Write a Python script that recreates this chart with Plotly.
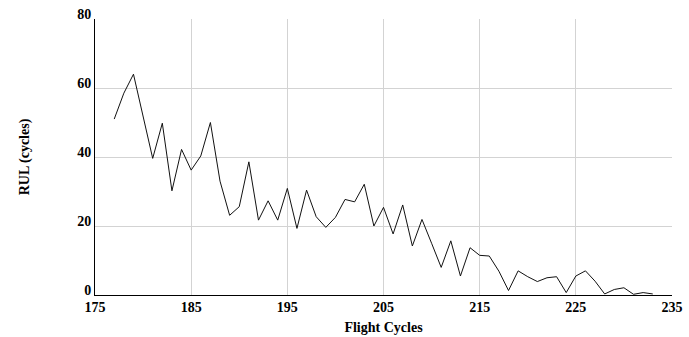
import plotly.graph_objects as go

cycles = list(range(177, 234))
rul = [51, 58.5, 64, 51.5, 39.6, 49.8, 30.2, 42.2, 36.2, 40.3, 50, 33, 23.1, 25.6,
       38.6, 21.7, 27.3, 21.7, 30.9, 19.3, 30.4, 22.7, 19.6, 22.5, 27.7, 27, 32.1,
       20, 25.4, 17.7, 26.1, 14.2, 21.9, 15, 8, 15.7, 5.5, 13.7, 11.5, 11.3, 6.9,
       1.3, 7, 5.3, 3.9, 5, 5.3, 0.7, 5.5, 7, 4, 0.3, 1.6, 2.1, 0.2, 0.7, 0.3]
x_ticks = [175, 185, 195, 205, 215, 225, 235]
y_ticks = [0, 20, 40, 60, 80]

font = "Liberation Serif"

fig = go.Figure(go.Scatter(x=cycles, y=rul, mode="lines",
                           line=dict(color="#111111", width=1)))
fig.update_layout(
    width=689, height=337,
    margin=dict(l=95, r=17, t=19, b=42),
    plot_bgcolor="white", paper_bgcolor="white",
    showlegend=False,
    font=dict(family=font, size=13, color="black"),
)
fig.update_xaxes(
    range=[175, 235], tickvals=x_ticks, ticktext=[str(v) for v in x_ticks],
    showgrid=True, gridcolor="#d3d3d3", gridwidth=1,
    showline=True, linecolor="black", linewidth=1,
    zeroline=False, ticks="", automargin=False, ticklabelstandoff=-1,
    tickfont=dict(family=font, size=14, color="black", weight="bold"),
    title=dict(text="<b>Flight Cycles</b>", font=dict(family=font, size=14), standoff=8),
)
fig.update_yaxes(
    range=[0, 80], tickvals=y_ticks,
    showgrid=True, gridcolor="#d3d3d3", gridwidth=1,
    showline=True, linecolor="black", linewidth=1,
    zeroline=False, ticks="", ticklabelshift=-5, automargin=False,
    tickfont=dict(family=font, size=14, color="black", weight="bold"),
    title=dict(text="<b>RUL (cycles)</b>", font=dict(family=font, size=14), standoff=44),
)
fig.write_html("out.html")
